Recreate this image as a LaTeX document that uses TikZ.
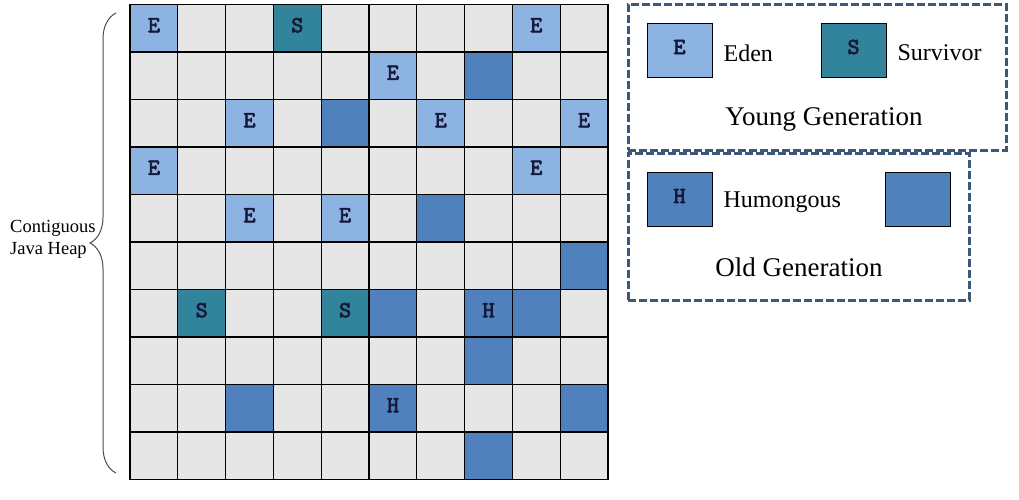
\documentclass[tikz,border=0pt]{standalone}
\usepackage{fontspec}
\setmainfont{Liberation Serif}
\newfontfamily\tagfont[AutoFakeBold=3]{lmmono10-regular.otf}
\usetikzlibrary{positioning,decorations.pathreplacing}
\definecolor{edenblue}{HTML}{8DB3E2}
\definecolor{survteal}{HTML}{31849B}
\definecolor{oldblue}{HTML}{4F81BD}
\definecolor{cellgrey}{HTML}{E6E6E6}
\definecolor{frameblue}{HTML}{3E5878}
\definecolor{tagink}{HTML}{15193A}
\tikzset{
	heapcell/.style={draw=black, line width=1.2pt, fill=cellgrey, minimum width=47.8pt, minimum height=47.5pt, inner sep=0pt, outer sep=0pt},
	regiontag/.style={font=\tagfont\bfseries\fontsize{23}{23}\selectfont, text=tagink, inner sep=0pt},
	keybox/.style={draw=black, line width=0.8pt, minimum width=65pt, minimum height=54pt, inner sep=0pt},
	genframe/.style={draw=frameblue, line width=3pt, dash pattern=on 8pt off 3pt, inner sep=0pt},
	keytext/.style={font=\fontsize{24}{24}\selectfont, inner sep=0pt},
	gentext/.style={font=\fontsize{27}{27}\selectfont, inner sep=0pt}
}
\begin{document}
\begin{tikzpicture}[x=1pt, y=-1pt]
		\useasboundingbox (0,0) rectangle (1019,499);
		\def\cw{47.8}
		\def\ch{47.5}
		%
		\foreach \r in {0,...,9}
			\foreach \c in {0,...,9}
				\node[heapcell] (cell-\r-\c) at ({130+\cw*(\c+0.5)},{4.5+\ch*(\r+0.5)}) {};
		%
		\foreach \r/\c [count=\i] in {0/0,0/8,1/5,2/2,2/6,2/9,3/0,3/8,4/2,4/4}
			\node[heapcell, fill=edenblue, label={[regiontag, yshift=3pt]center:E}] (eden-\i) at (cell-\r-\c) {};
		\foreach \r/\c [count=\i] in {0/3,6/1,6/4}
			\node[heapcell, fill=survteal, label={[regiontag, yshift=3pt]center:S}] (surv-\i) at (cell-\r-\c) {};
		\foreach \r/\c [count=\i] in {1/7,2/4,4/6,5/9,6/5,6/8,7/7,8/2,8/9,9/7}
			\node[heapcell, fill=oldblue] (old-\i) at (cell-\r-\c) {};
		\foreach \r/\c [count=\i] in {6/7,8/5}
			\node[heapcell, fill=oldblue, label={[regiontag, yshift=3pt]center:H}] (hum-\i) at (cell-\r-\c) {};
		%
		\coordinate (heaptop) at (116,13);
		\coordinate (heapbot) at (116,473);
		\draw[black!70, line width=1pt, decorate, decoration={brace, amplitude=26pt}] (heapbot) -- (heaptop);
		\node[anchor=west, align=left, inner sep=2pt, font=\fontsize{18.5}{22}\selectfont] (heaplabel) at (8,239) {Contiguous\\Java Heap};
		%
		\node[genframe, minimum width=378pt, minimum height=146pt] (young) at (817,77) {};
		\node[genframe, minimum width=341pt, minimum height=147pt] (oldgen) at (798.5,226.5) {};
		%
		\node[keybox, fill=edenblue] (key-eden) at (679.5,50) {};
		\node[regiontag] at ([yshift=3pt]key-eden.center) {E};
		\node[keytext, right=11pt of key-eden, yshift=-3pt] (txt-eden) {Eden};
		\node[keybox, fill=survteal] (key-surv) at (853.5,50) {};
		\node[regiontag] at ([yshift=3pt]key-surv.center) {S};
		\node[keytext, right=11pt of key-surv, yshift=-3pt] (txt-surv) {Survivor};
		\node[gentext] (txt-young) at (824,119) {Young Generation};
		%
		\node[keybox, fill=oldblue] (key-hum) at (679.5,199) {};
		\node[regiontag] at ([yshift=3pt]key-hum.center) {H};
		\node[keytext, right=11pt of key-hum, yshift=-3pt] (txt-hum) {Humongous};
		\node[keybox, fill=oldblue] (key-old) at (917.5,199) {};
		\node[gentext] (txt-old) at (799,267) {Old Generation};
	\end{tikzpicture}
\end{document}
